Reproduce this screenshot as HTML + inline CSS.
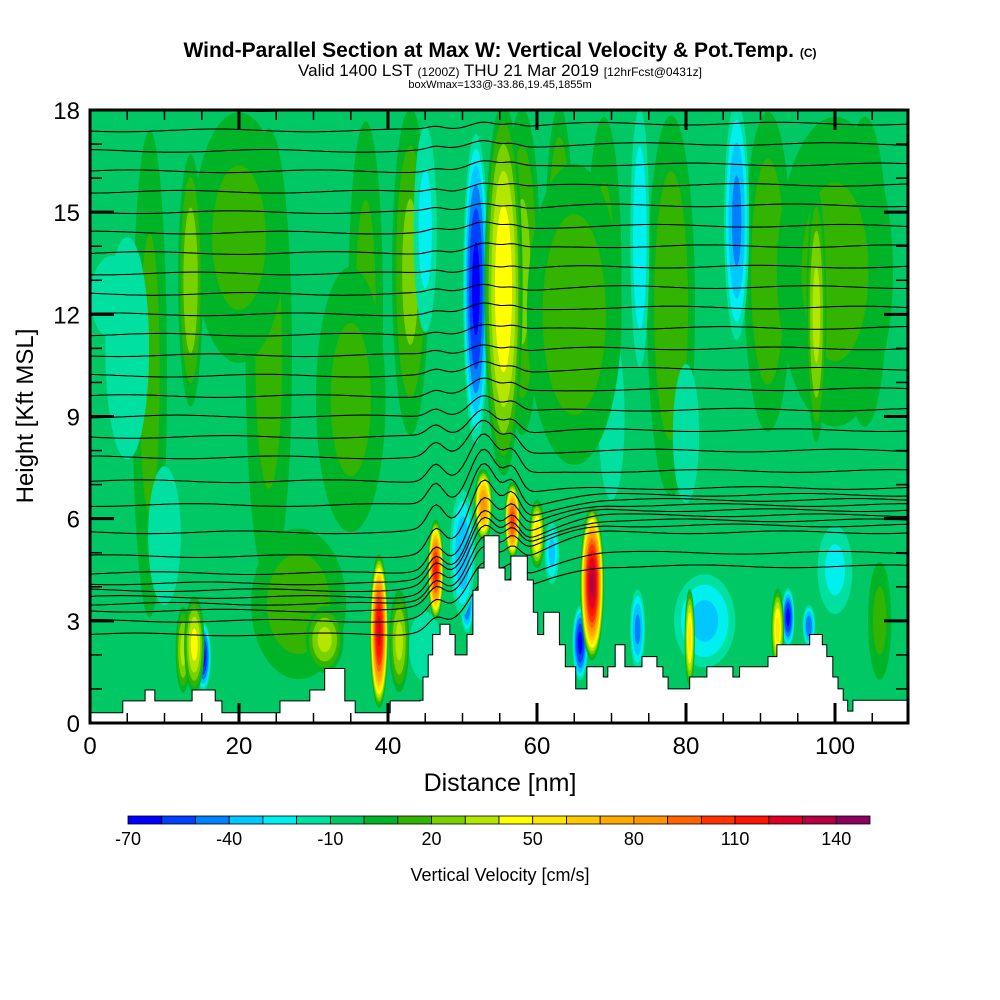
<!DOCTYPE html>
<html><head><meta charset="utf-8"><style>
body{margin:0;background:#fff;}
svg{display:block;font-family:"Liberation Sans",Arial,sans-serif;}
</style></head><body>
<svg id="chart" width="1000" height="1000" viewBox="0 0 1000 1000">
<text x="500" y="57" text-anchor="middle" font-size="21" font-weight="bold">Wind-Parallel Section at Max W: Vertical Velocity &amp; Pot.Temp. <tspan font-size="12">(C)</tspan></text>
<text x="500" y="76" text-anchor="middle" font-size="17">Valid 1400 LST <tspan font-size="12">(1200Z)</tspan> THU 21 Mar 2019 <tspan font-size="12">[12hrFcst@0431z]</tspan></text>
<text x="500" y="88" text-anchor="middle" font-size="11">boxWmax=133@-33.86,19.45,1855m</text>
<defs><clipPath id="pc"><rect x="90" y="110" width="818" height="613"/></clipPath></defs>
<g id="field" clip-path="url(#pc)"></g>
<g id="axes"></g>
<text x="500" y="791" text-anchor="middle" font-size="25">Distance [nm]</text>
<text transform="translate(33,416) rotate(-90)" text-anchor="middle" font-size="24">Height [Kft MSL]</text>
<g id="cbar"></g>
<text x="500" y="881" text-anchor="middle" font-size="18">Vertical Velocity [cm/s]</text>
</svg>
<script>
// ---- data ----
const binColors=["#0000ff","#0040ff","#0080ff","#00c8ff","#00f0f0","#00e0a0","#00c864","#00b428","#32b400","#78d200","#b4e600","#ffff00","#ffe600","#ffc800","#ffaa00","#ff9600","#ff6400","#ff3200","#ff1400","#dc0028","#b40040","#8c0060"];
const cbarLabels=[-70,-40,-10,20,50,80,110,140];
const xTicks=[0,20,40,60,80,100];
const yTicks=[0,3,6,9,12,15,18];
const terrainX=[0,4.4,7.4,8.7,13.7,16.8,17.7,25.5,29.5,31.5,34.2,35.6,40.3,44.3,44.7,45.4,46.0,47.0,48.3,49.0,50.6,51.4,52.1,52.9,54.9,55.7,56.5,58.7,59.5,60.1,60.9,63.0,63.8,65.2,66.7,68.9,69.5,70.5,71.8,74.1,76.1,76.9,77.6,80.5,82.8,86.3,87.2,91.0,92.2,96.6,98.3,98.9,99.7,100.4,101.1,101.7,102.4];
const terrainH=[0.3,0.65,0.97,0.65,0.97,0.65,0.3,0.65,0.97,1.6,0.65,0.3,0.65,0.67,1.35,2.0,2.6,2.9,2.6,2.0,2.6,3.9,4.55,5.5,4.55,4.2,4.9,4.2,3.25,2.6,3.25,2.3,1.65,1.0,1.65,1.35,1.65,2.3,1.65,1.95,1.65,1.35,1.0,1.35,1.65,1.35,1.65,1.95,2.3,2.6,2.3,1.95,1.35,1.0,0.67,0.35,0.67];
// plumes: center nm, half-width nm, bottom kft, top kft, peak w
const plumeX=[8,24,37,43,58,63,69,78,91,104,106,10,45,70,80,100,20,35,65,100,28,5,3,45,73.8,86.8,82.5,62,73.5,96.5,93.7,65.8,15.2,50.6,50,51.8,13.5,97.5,92.3,80.5,41.5,31.5,12.5,14,55.5,60,67.4,56.7,52.8,46.4,38.8];
const plumeHW=[1.5,2,1.5,1.5,1.5,1.2,1.5,2,2,2,1,1.5,1.5,1.2,1.2,1.5,4,3,4,5,4,2,2,1,0.8,1.0,2.5,0.6,0.6,0.5,0.5,0.6,0.6,0.5,1.0,1.0,1,0.8,0.5,0.4,0.8,1.5,0.6,0.8,1.5,0.6,0.9,0.6,0.7,0.6,0.7];
const plumeBot=[2,3,6,8,8,8,8,6,8,8,1,3,1,6,6,3,10,5,7,8,1,7,11,11,10,11,1.5,4,1.5,2.2,2.2,1.2,0.9,2.6,3,8,9,8,1.5,1,0.8,1.4,0.8,0.8,7,4.5,1.8,4.8,5.3,3.0,0.4];
const plumeTop=[18.5,18.5,18.5,18.5,18.5,18.5,18.5,18.5,18.5,18.5,5,8,3.5,12,11,6,18.5,14,17,18.5,6,15,14,18,18.5,18.5,4.5,6,4,3.5,4,3.5,3.0,4.5,7,17.5,17,16,4,4,4,3.5,3.5,3.8,18.5,6.6,6.4,7.1,7.5,6.0,5.0];
const plumeW=[15,15,15,25,25,30,15,20,20,15,15,-20,-20,-20,-20,-25,15,15,18,15,18,-20,-20,-25,-30,-45,-35,-35,-45,-50,-65,-65,-65,-55,-40,-65,30,35,55,55,35,35,35,45,50,55,135,105,85,115,125];
// isentropes: height at left and right edge (kft)
const thetaLeft=[2.6,3.0,3.3,3.5,3.7,3.9,4.1,4.4,4.9,5.6,6.4,7.1,7.8,8.4,9.0,9.6,10.2,10.8,11.4,12.0,12.6,13.2,13.8,14.4,15.0,15.6,16.2,16.8,17.4,18.0];
const thetaRight=[4.6,5.0,5.6,5.8,5.95,6.1,6.25,6.4,6.55,6.7,6.9,7.4,8.0,8.6,9.2,9.8,10.4,11.0,11.6,12.2,12.8,13.4,14.0,14.6,15.2,15.8,16.4,17.0,17.6,18.2];

// ---- scales ----
const X0=90,X1=908,Y0=723,Y1=110;
const sx=v=>X0+v*(835-90)/100;
const sy=v=>Y0-v*(Y0-Y1)/18;
const NS="http://www.w3.org/2000/svg";
function mk(tag,attrs,parent){const e=document.createElementNS(NS,tag);for(const k in attrs)e.setAttribute(k,attrs[k]);parent.appendChild(e);return e;}
const colorFor=w=>binColors[Math.max(0,Math.min(21,Math.floor((w+70)/10)))];

const field=document.getElementById('field');
const bg=mk('rect',{x:X0,y:Y1,width:X1-X0,height:Y0-Y1,fill:"#00c864"},field);


const bgw=-5;
for(let i=0;i<plumeX.length;i++){
  const cx=sx(plumeX[i]),cy=(sy(plumeBot[i])+sy(plumeTop[i]))/2;
  const rx=plumeHW[i]*(835-90)/100*1.8,ry=(sy(plumeBot[i])-sy(plumeTop[i]))/2;
  const pk=plumeW[i];
  const g=mk('g',{},field);
  
  
  if(pk>bgw){
    for(let b=0;b<pk;b+=10){
      const t=(b-bgw)/(pk-bgw), s=Math.sqrt(1-t);
      mk('ellipse',{cx:cx,cy:cy,rx:rx*s,ry:ry*s,fill:colorFor(b+1)},g);
    }
  }else{
    for(let u=-10;u>pk;u-=10){
      const t=(bgw-u)/(bgw-pk), s=Math.sqrt(1-t);
      mk('ellipse',{cx:cx,cy:cy,rx:rx*s,ry:ry*s,fill:colorFor(u-1)},g);
    }
  }
}
// isentropes
const sm=t=>t<=0?0:t>=1?1:t*t*(3-2*t);
for(let i=0;i<thetaLeft.length;i++){
  const L=thetaLeft[i],R=thetaRight[i];
  const amp=1.4*Math.exp(-Math.pow((L-5.5)/3,2))+0.2;
  let d="";
  for(let x=0;x<=110.01;x+=0.5){
    let h=L+(R-L)*sm((x-40)/30);
    h+=amp*Math.exp(-Math.pow((x-52.8)/2.5,2))+0.5*amp*Math.exp(-Math.pow((x-56.7)/1.5,2))+0.4*amp*Math.exp(-Math.pow((x-46.4)/1.5,2));
    h+=0.04*Math.sin(x*0.25+i*1.7);
    d+=(x===0?"M":"L")+sx(x).toFixed(1)+","+sy(h).toFixed(1);
  }
  const p=mk('path',{d:d,fill:"none",stroke:"#000","stroke-width":1.1},field);
  
  
}
// terrain
let td="M"+sx(0)+","+Y0;
for(let i=0;i<terrainX.length;i++){
  const xe=i+1<terrainX.length?terrainX[i+1]:112;
  td+="L"+sx(terrainX[i]).toFixed(1)+","+sy(terrainH[i]).toFixed(1)+"L"+sx(xe).toFixed(1)+","+sy(terrainH[i]).toFixed(1);
}
td+="L"+sx(112)+","+Y0+"Z";
const terr=mk('path',{d:td,fill:"#fff",stroke:"#000","stroke-width":1},field);



// axes
const ax=document.getElementById('axes');
const frame=mk('rect',{x:X0,y:Y1,width:X1-X0,height:Y0-Y1,fill:"none",stroke:"#000","stroke-width":3},ax);


for(let v=0;v<=105;v+=5){
  const x=sx(v),len=v%20===0?20:10;
  mk('line',{x1:x,y1:Y0,x2:x,y2:Y0-len,stroke:"#000","stroke-width":v%20===0?3:1.5},ax);
  mk('line',{x1:x,y1:Y1,x2:x,y2:Y1+len,stroke:"#000","stroke-width":v%20===0?3:1.5},ax);
}
for(let v=0;v<=18;v+=1){
  const y=sy(v),len=v%3===0?24:12;
  mk('line',{x1:X0,y1:y,x2:X0+len,y2:y,stroke:"#000","stroke-width":v%3===0?3:1.5},ax);
  mk('line',{x1:X1,y1:y,x2:X1-len,y2:y,stroke:"#000","stroke-width":v%3===0?3:1.5},ax);
}
xTicks.forEach(v=>{const t=mk('text',{x:sx(v),y:754,"text-anchor":"middle","font-size":24},ax);t.textContent=v;

});
yTicks.forEach(v=>{const t=mk('text',{x:80,y:sy(v)+9,"text-anchor":"end","font-size":24},ax);t.textContent=v;

});

// colorbar
const cb=document.getElementById('cbar');
const cbx0=128,cbx1=870,bw=(cbx1-cbx0)/binColors.length;
binColors.forEach((c,i)=>{const r=mk('rect',{x:cbx0+i*bw,y:816,width:bw,height:8,fill:c,stroke:"#000","stroke-width":0.8},cb);

});
cbarLabels.forEach(v=>{const t=mk('text',{x:cbx0+(v+70)/10*bw,y:845,"text-anchor":"middle","font-size":18},cb);t.textContent=v;

});
</script>
</body></html>
